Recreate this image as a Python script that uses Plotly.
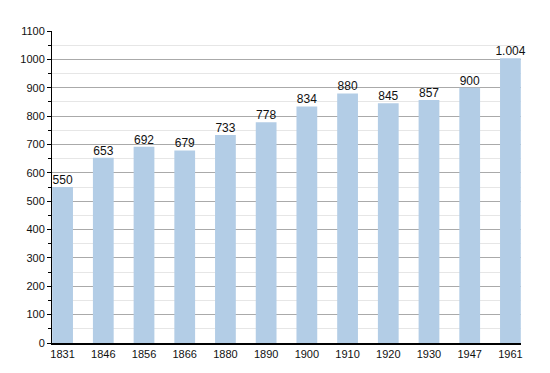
import plotly.graph_objects as go

years = ["1831", "1846", "1856", "1866", "1880", "1890", "1900", "1910", "1920", "1930", "1947", "1961"]
population = [550, 653, 692, 679, 733, 778, 834, 880, 845, 857, 900, 1004]
labels = ["550", "653", "692", "679", "733", "778", "834", "880", "845", "857", "900", "1.004"]

fig = go.Figure()
fig.add_trace(go.Bar(
    x=years, y=population,
    marker=dict(color="#b3cde6", line=dict(width=0)),
    width=0.51, hoverinfo="x+y",
))
fig.add_trace(go.Scatter(
    x=years, y=population, text=labels, mode="text", textposition="top center",
    textfont=dict(size=12, color="#111"), cliponaxis=False, hoverinfo="skip",
))
fig.update_layout(
    width=542, height=365,
    margin=dict(l=42, r=29, t=23, b=30),
    plot_bgcolor="white", paper_bgcolor="white",
    font=dict(family="Liberation Sans, Arial, sans-serif", size=11, color="#111"),
    showlegend=False,
)
fig.update_xaxes(type="category", range=[-0.26, 11.26], showline=True, linecolor="black", linewidth=1.5,
                 ticks="", showgrid=False, tickfont=dict(size=11))
fig.update_yaxes(range=[0, 1100], dtick=100, showline=True, linecolor="black", linewidth=1,
                 ticks="outside", ticklen=4, tickcolor="black",
                 showgrid=True, gridcolor="#aaaaaa", gridwidth=1, zeroline=False,
                 minor=dict(dtick=50, showgrid=True, gridcolor="#e6e6e6", ticks="outside", ticklen=3, tickcolor="black"),
                 tickfont=dict(size=11))
fig.write_html("out.html")
